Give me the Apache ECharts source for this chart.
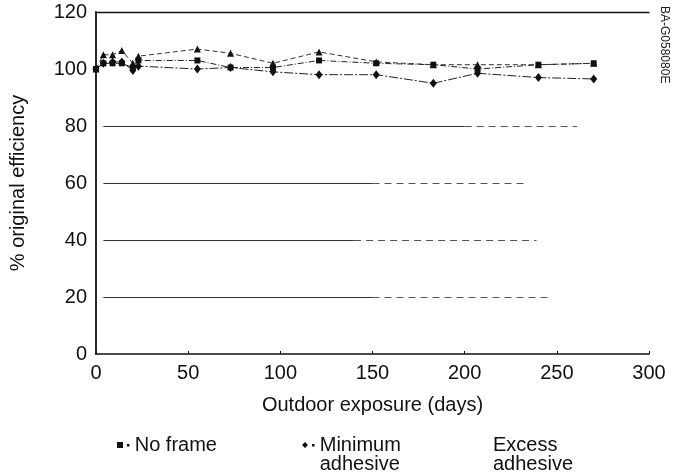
<!DOCTYPE html>
<html>
<head>
<meta charset="utf-8">
<script src="https://cdn.jsdelivr.net/npm/echarts@6/dist/echarts.min.js"></script>
<style>html,body{margin:0;padding:0;background:#fff}#c{width:674px;height:474px}</style>
</head>
<body>
<div id="c"></div>
<script>
// Data
const days = [0, 4, 9, 14, 20, 23, 55, 73, 96, 121, 152, 183, 207, 240, 270];
const noFrame = [100, 102, 102, 102, 100.5, 103, 103, 100.5, 100.5, 103, 102, 101.5, 100, 101.5, 102];
const minAdhesive = [100, 102, 102.5, 102.5, 99.5, 101, 100, 100.5, 99, 98, 98, 95, 98.5, 97, 96.5];
const excessAdhesive = [100, 105, 105, 106.5, 102, 104.5, 107, 105.5, 102, 106, 102.5, 101.5, 101.5, 101.5, 102];
const seriesNames = ['No frame', 'Minimum\nadhesive', 'Excess\nadhesive'];
// faded reference lines across the plot (level, start day, end of solid part, end of faded part)
const gridLevels = [80, 60, 40, 20];
const gridStart = [4, 4, 4, 4];
const gridSolidEnd = [200, 150, 140, 150];
const gridEnd = [261, 234, 239, 247];
const xTicks = [0, 50, 100, 150, 200, 250, 300];
const yTicks = [0, 20, 40, 60, 80, 100, 120];

const FONT = 'Liberation Sans, Arial, Helvetica, sans-serif';
const pairs = arr => days.map((d, i) => [d, arr[i]]);

const chart = echarts.init(document.getElementById('c'), null, {renderer: 'canvas'});
const legendText = {fontFamily: FONT, fontSize: 20, color: '#111', lineHeight: 19};
const legendBase = {
  orient: 'horizontal', itemWidth: 13, itemHeight: 6, itemGap: 0, padding: 0,
  textStyle: legendText, selectedMode: false
};
const iconSquare = 'path://M0,0h6v6h-6z M10,2h2.5v2.5h-2.5z';
const iconDiamond = 'path://M3,0L6,3L3,6L0,3z M10,2h2.5v2.5h-2.5z';

const gridMarks = [];
gridLevels.forEach((v, i) => {
  gridMarks.push([{coord: [gridStart[i], v], lineStyle: {type: 'solid', color: '#333', width: 1.2}},
                  {coord: [gridSolidEnd[i], v]}]);
  gridMarks.push([{coord: [gridSolidEnd[i], v], lineStyle: {type: [7, 5], color: '#555', width: 1.2}},
                  {coord: [gridEnd[i], v]}]);
});

chart.setOption({
  animation: false,
  backgroundColor: '#fff',
  grid: {left: 96, right: 25, top: 12, bottom: 120},
  xAxis: [{
    type: 'value', min: xTicks[0], max: xTicks[xTicks.length - 1], interval: 50,
    name: 'Outdoor exposure (days)', nameLocation: 'middle', nameGap: 41,
    nameTextStyle: {fontFamily: FONT, fontSize: 20, color: '#111'},
    axisLine: {show: true, lineStyle: {color: '#111', width: 1.6}},
    axisTick: {show: true, inside: true, length: 3, lineStyle: {color: '#111'}},
    axisLabel: {fontFamily: FONT, fontSize: 20, color: '#111', margin: 9},
    splitLine: {show: false}
  }, {
    type: 'value', position: 'top', min: 0, max: 300,
    axisLine: {show: true, onZero: false, lineStyle: {color: '#111', width: 1.4}},
    axisTick: {show: false}, axisLabel: {show: false}, splitLine: {show: false}
  }],
  yAxis: {
    type: 'value', min: yTicks[0], max: yTicks[yTicks.length - 1], interval: 20,
    name: '% original efficiency', nameLocation: 'middle', nameGap: 68,
    nameTextStyle: {fontFamily: FONT, fontSize: 20, color: '#111'},
    axisLine: {show: true, lineStyle: {color: '#111', width: 1.8}},
    axisTick: {show: false},
    axisLabel: {fontFamily: FONT, fontSize: 20, color: '#111', margin: 9},
    splitLine: {show: false}
  },
  legend: [
    Object.assign({}, legendBase, {left: 117, top: 435, data: [{name: seriesNames[0], icon: iconSquare}]}),
    Object.assign({}, legendBase, {left: 302, top: 416,
      formatter: n => ' \n' + n,
      data: [{name: seriesNames[1], icon: iconDiamond}]}),
    Object.assign({}, legendBase, {left: 475, top: 416,
      formatter: n => ' \n' + n,
      data: [{name: seriesNames[2], icon: 'triangle', itemStyle: {opacity: 0}}]})
  ],
  series: [{
    name: seriesNames[0], type: 'line', data: pairs(noFrame),
    symbol: 'rect', symbolSize: 6,
    itemStyle: {color: '#111'},
    lineStyle: {color: '#222', width: 1, type: [6, 2, 1, 2]},
    markLine: {
      silent: true, symbol: 'none', label: {show: false},
      data: gridMarks
    }
  }, {
    name: seriesNames[1], type: 'line', data: pairs(minAdhesive),
    symbol: 'diamond', symbolSize: [7, 9],
    itemStyle: {color: '#111'},
    lineStyle: {color: '#222', width: 1, type: [9, 2, 2, 2]}
  }, {
    name: seriesNames[2], type: 'line', data: pairs(excessAdhesive),
    symbol: 'triangle', symbolSize: 7,
    itemStyle: {color: '#111'},
    lineStyle: {color: '#333', width: 1, type: [5, 3]}
  }],
  graphic: [{
    type: 'text', x: 664, y: 6, rotation: -Math.PI / 2,
    style: {text: 'BA-G058080E', font: '12px ' + FONT, fill: '#222',
      textAlign: 'left', textVerticalAlign: 'middle'}
  }]
});
</script>
</body>
</html>
